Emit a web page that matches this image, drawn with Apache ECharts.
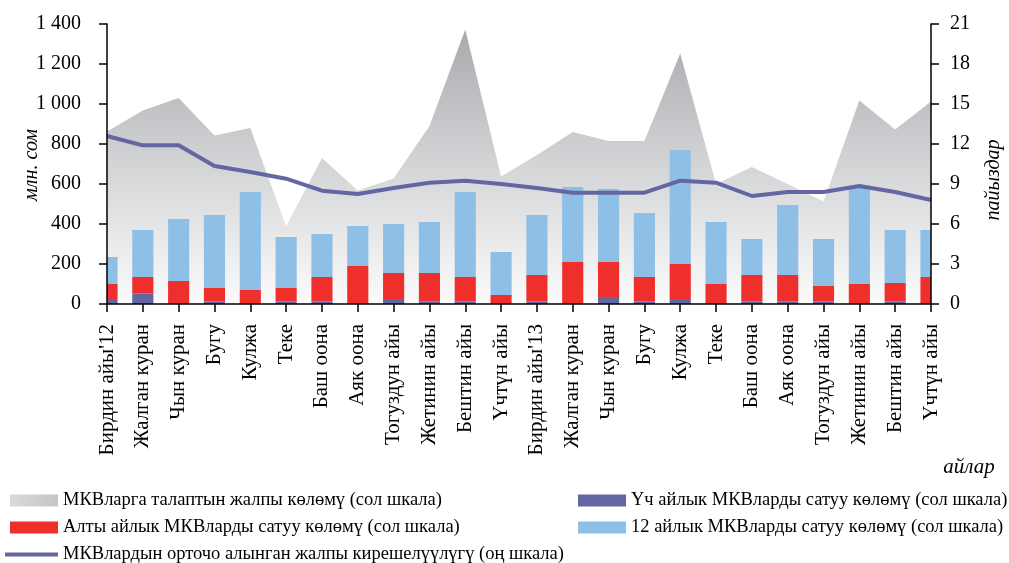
<!DOCTYPE html>
<html>
<head>
<meta charset="utf-8">
<script src="https://cdn.jsdelivr.net/npm/echarts@6/dist/echarts.min.js"></script>
<style>
  html, body { margin: 0; padding: 0; background: #fff; }
  #chart { width: 1009px; height: 563px; }
</style>
</head>
<body>
<div id="chart"></div>
<script>
// months (two years)
const months = [
  "Бирдин айы'12", "Жалган куран", "Чын куран", "Бугу", "Кулжа", "Теке",
  "Баш оона", "Аяк оона", "Тогуздун айы", "Жетинин айы", "Бештин айы", "Үчтүн айы",
  "Бирдин айы'13", "Жалган куран", "Чын куран", "Бугу", "Кулжа", "Теке",
  "Баш оона", "Аяк оона", "Тогуздун айы", "Жетинин айы", "Бештин айы", "Үчтүн айы"
];
// total demand, mln som (left scale)
const demand = [862, 967, 1030, 842, 880, 387, 730, 568, 628, 890, 1373, 637,
  745, 860, 815, 815, 1253, 600, 685, 600, 512, 1018, 873, 1012];
// sales by tenor, mln som (stacked, left scale)
const sales3m = [25, 52, 2, 13, 3, 13, 13, 3, 25, 13, 13, 3,
  13, 3, 35, 13, 25, 3, 13, 13, 13, 3, 13, 3];
const sales6m = [75, 83, 113, 67, 67, 67, 122, 187, 130, 142, 122, 42,
  132, 207, 175, 122, 175, 97, 132, 132, 77, 97, 92, 132];
const sales12m = [135, 235, 310, 365, 490, 255, 215, 200, 245, 255, 425, 215,
  300, 375, 365, 320, 570, 310, 180, 350, 235, 485, 265, 235];
// weighted average yield, % (right scale)
const yieldPct = [12.6, 11.9, 11.9, 10.35, 9.9, 9.4, 8.5, 8.25, 8.7, 9.1, 9.25, 9.0,
  8.7, 8.35, 8.35, 8.35, 9.25, 9.1, 8.1, 8.4, 8.4, 8.85, 8.4, 7.8];

const names = {
  demand: "МКВларга талаптын жалпы көлөмү (сол шкала)",
  s3: "Үч айлык МКВларды сатуу көлөмү (сол шкала)",
  s6: "Алты айлык МКВларды сатуу көлөмү (сол шкала)",
  s12: "12 айлык МКВларды сатуу көлөмү (сол шкала)",
  yld: "МКВлардын орточо алынган жалпы кирешелүүлүгү (оң шкала)"
};

const font = "Liberation Serif";
const purple = "#6466a2";
const red = "#ef2f2c";
const blue = "#8ebfe7";

// stacked bar pieces: [index, bottom, top]
const base6 = sales3m;
const base12 = sales3m.map((v, i) => v + sales6m[i]);
const pieces = (lower, vals) => vals.map((v, i) => [i, lower ? lower[i] : 0, (lower ? lower[i] : 0) + v]);

// bars sit on the ticks (boundaryGap false) and get cut at the grid edges
function barSeries(name, color, data) {
  return {
    name: name,
    type: "custom",
    z: 2,
    itemStyle: { color: color },
    encode: { x: 0, y: [1, 2] },
    data: data,
    renderItem: function (params, api) {
      const i = api.value(0);
      const p0 = api.coord([i, api.value(1)]);
      const p1 = api.coord([i, api.value(2)]);
      const w = api.size([1, 0])[0] * 0.59;
      const cs = params.coordSys;
      const shape = echarts.graphic.clipRectByRect(
        { x: p0[0] - w / 2, y: p1[1], width: w, height: p0[1] - p1[1] },
        { x: cs.x, y: cs.y, width: cs.width, height: cs.height }
      );
      return shape && { type: "rect", shape: shape, style: api.style() };
    },
  };
}

const chart = echarts.init(document.getElementById("chart"));

const axisCommon = {
  z: 10,
  axisLine: { show: true, lineStyle: { color: "#000", width: 1.5 } },
  axisTick: { show: true, length: 8, lineStyle: { color: "#000", width: 1.5 } },
  splitLine: { show: false },
};

const legendText = { fontFamily: font, fontSize: 18.5, color: "#000" };
const titleFont = "italic 20px 'Liberation Serif'";

const option = {
  animation: false,
  grid: { left: 107, right: 78, top: 24, bottom: 259 },
  xAxis: {
    type: "category",
    data: months,
    boundaryGap: false,
    ...axisCommon,
    axisLabel: {
      interval: 0,
      rotate: 90,
      margin: 20,
      fontFamily: font,
      fontSize: 21,
      color: "#000",
    },
  },
  yAxis: [
    {
      type: "value",
      min: 0,
      max: 1400,
      interval: 200,
      ...axisCommon,
      axisLabel: {
        margin: 26,
        fontFamily: font,
        fontSize: 20,
        color: "#000",
        formatter: (v) => String(v).replace(/\B(?=(\d{3})+(?!\d))/g, " "),
      },
    },
    {
      type: "value",
      min: 0,
      max: 21,
      interval: 3,
      position: "right",
      ...axisCommon,
      axisLabel: { margin: 19, fontFamily: font, fontSize: 20, color: "#000" },
    },
  ],
  legend: [
    {
      orient: "vertical",
      left: 5,
      top: 486,
      itemWidth: 48,
      itemHeight: 12,
      itemGap: 8,
      icon: "rect",
      textStyle: legendText,
      data: [
        {
          name: names.demand,
          itemStyle: {
            color: new echarts.graphic.LinearGradient(0, 0, 1, 0, [
              { offset: 0, color: "#d9dadb" },
              { offset: 1, color: "#c4c5c7" },
            ]),
          },
        },
        { name: names.s6 },
      ],
    },
    {
      orient: "vertical",
      left: 573,
      top: 486,
      itemWidth: 48,
      itemHeight: 12,
      itemGap: 8,
      icon: "rect",
      textStyle: legendText,
      data: [{ name: names.s3 }, { name: names.s12 }],
    },
    {
      left: 0,
      top: 540,
      itemWidth: 53,
      itemHeight: 4,
      itemGap: 4,
      icon: "rect",
      textStyle: legendText,
      data: [{ name: names.yld }],
    },
  ],
  graphic: [
    {
      type: "text",
      x: 32,
      y: 165,
      rotation: Math.PI / 2,
      style: { text: "млн. сом", font: titleFont, fill: "#000", align: "center", verticalAlign: "middle" },
    },
    {
      type: "text",
      x: 994,
      y: 180,
      rotation: Math.PI / 2,
      style: { text: "пайыздар", font: titleFont, fill: "#000", align: "center", verticalAlign: "middle" },
    },
    {
      type: "text",
      x: 969,
      y: 467,
      style: { text: "айлар", font: "italic 21px 'Liberation Serif'", fill: "#000", align: "center", verticalAlign: "middle" },
    },
  ],
  series: [
    {
      name: names.demand,
      type: "line",
      data: demand,
      symbol: "none",
      z: 1,
      itemStyle: { color: "#c8c9cb" },
      lineStyle: { width: 0 },
      areaStyle: {
        opacity: 1,
        color: new echarts.graphic.LinearGradient(0, 24, 0, 304, [
          { offset: 0, color: "#a6a8ab" },
          { offset: 0.5, color: "#d3d4d6" },
          { offset: 1, color: "#fbfbfb" },
        ], true),
      },
    },
    barSeries(names.s3, purple, pieces(null, sales3m)),
    barSeries(names.s6, red, pieces(base6, sales6m)),
    barSeries(names.s12, blue, pieces(base12, sales12m)),
    {
      name: names.yld,
      type: "line",
      yAxisIndex: 1,
      data: yieldPct,
      symbol: "none",
      z: 3,
      itemStyle: { color: purple },
      lineStyle: { color: purple, width: 4 },
    },
  ],
};

chart.setOption(option);
</script>
</body>
</html>
